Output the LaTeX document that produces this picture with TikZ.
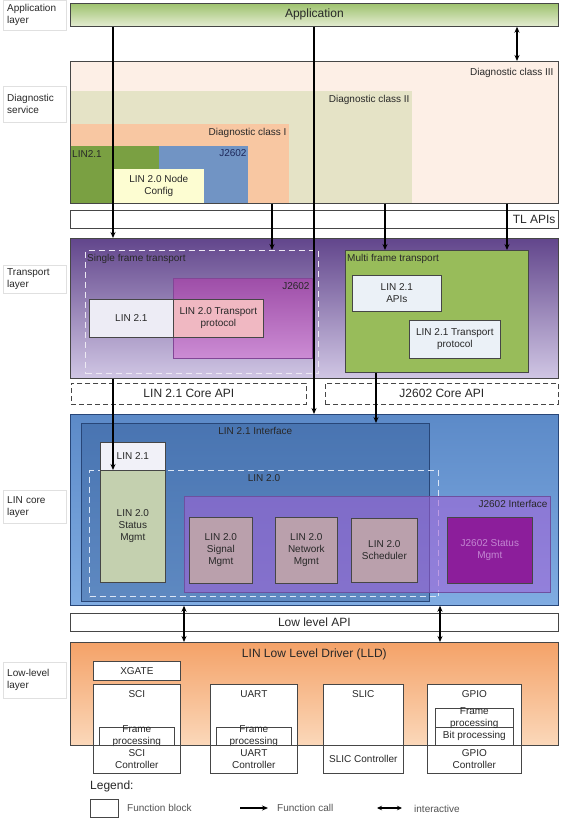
\documentclass[tikz,border=0pt]{standalone}
\usepackage{fontspec}
\setmainfont{Liberation Sans}
\usetikzlibrary{arrows.meta, positioning, calc}
\definecolor{cText}{RGB}{40,40,40}
\definecolor{cEdge}{RGB}{70,70,70}
\definecolor{cAppTop}{RGB}{158,194,110}
\definecolor{cAppBot}{RGB}{228,236,210}
\definecolor{cDiagIII}{RGB}{253,239,230}
\definecolor{cDiagII}{RGB}{229,227,198}
\definecolor{cDiagI}{RGB}{248,199,162}
\definecolor{cLinGreen}{RGB}{122,160,66}
\definecolor{cJBlue}{RGB}{113,148,196}
\definecolor{cJNavy}{RGB}{30,40,90}
\definecolor{cNodeCfg}{RGB}{253,253,210}
\definecolor{cTransTop}{RGB}{98,70,140}
\definecolor{cTransBot}{RGB}{208,198,228}
\definecolor{cSftEdge}{RGB}{236,232,242}
\definecolor{cJMagTop}{RGB}{158,78,168}
\definecolor{cJMagBot}{RGB}{204,140,212}
\definecolor{cJMagEdge}{RGB}{130,70,150}
\definecolor{cLinWhite}{RGB}{237,236,245}
\definecolor{cTpPink}{RGB}{240,184,194}
\definecolor{cMultiGreen}{RGB}{152,188,90}
\definecolor{cApiFill}{RGB}{235,241,247}
\definecolor{cCoreTop}{RGB}{92,138,200}
\definecolor{cCoreBot}{RGB}{128,172,226}
\definecolor{cIfBlue}{RGB}{35,75,135}
\definecolor{cIfEdge}{RGB}{40,70,120}
\definecolor{cLinDash}{RGB}{220,230,245}
\definecolor{cIfPurple}{RGB}{165,95,215}
\definecolor{cIfPEdge}{RGB}{110,80,160}
\definecolor{cLin21c}{RGB}{241,241,248}
\definecolor{cStatus}{RGB}{196,208,175}
\definecolor{cMgmt}{RGB}{186,160,172}
\definecolor{cJStatus}{RGB}{140,30,155}
\definecolor{cJStatusTxt}{RGB}{195,135,210}
\definecolor{cLldTop}{RGB}{244,162,104}
\definecolor{cLldBot}{RGB}{251,216,186}
\tikzset{
  blk/.style={rectangle, draw=cEdge, line width=0.7pt, anchor=north west,
              inner sep=0pt, align=center, text=cText, font=\normalsize},
  bigbar/.style={blk, fill=white, font=\large},
  dashbar/.style={bigbar, dashed, dash pattern=on 5pt off 3pt},
  tagtxt/.style={font=\normalsize, text=cText, inner sep=0pt, text opacity=1},
  tagNE/.style={label={[tagtxt, anchor=base east, xshift=-3pt, yshift=-11pt]north east:#1}},
  tagNW/.style={label={[tagtxt, anchor=base west, xshift=2pt, yshift=-11pt]north west:#1}},
  tagN/.style={label={[tagtxt, anchor=base, yshift=-11pt]north:#1}},
  blktitle/.style={label={[tagtxt, anchor=base, yshift=-13.6pt]north:#1}},
  layerlbl/.style={rectangle, draw=black!12, anchor=west, align=left, inner xsep=4pt,
                   font=\normalsize, text=cText, text width=55pt},
  fcall/.style={-{Stealth[length=6pt, width=5pt]}, line width=1.3pt},
  inter/.style={{Stealth[length=6pt, width=5pt]}-{Stealth[length=6pt, width=5pt]}, line width=1.3pt},
}
\begin{document}
\begin{tikzpicture}[x=1pt, y=-1pt]
\useasboundingbox (0,0) rectangle (562,822);
\fill[white] (0,0) rectangle (562,822);

%% ============================================================
%%  LAYER NAMES (left column)
%% ============================================================
\node[layerlbl, minimum height=30pt] (lApp)   at (3,15)  {Application\\layer};
\node[layerlbl, minimum height=36pt] (lDiag)  at (3,104) {Diagnostic\\service};
\node[layerlbl, minimum height=28pt] (lTrans) at (3,279) {Transport\\layer};
\node[layerlbl, minimum height=33pt] (lCore)  at (3,507) {LIN core\\layer};
\node[layerlbl, minimum height=36pt] (lLow)   at (3,680) {Low-level\\layer};

%% ============================================================
%%  APPLICATION + DIAGNOSTIC SERVICE
%% ============================================================
\node[blk, minimum width=488pt, minimum height=23pt, font=\large,
      top color=cAppTop, bottom color=cAppBot] (app) at (70,3) {Application};

\node[blk, fill=cDiagIII, minimum width=488pt, minimum height=142pt,
      label={[tagtxt, anchor=base east, xshift=-5pt, yshift=-14pt]north east:Diagnostic class III}]
  (diag3) at (70,61) {};
\node[blk, draw=none, fill=cDiagII, minimum width=342pt, minimum height=112pt,
      tagNE=Diagnostic class II] (diag2) at (70,91) {};
\node[blk, draw=none, fill=cDiagI, minimum width=219pt, minimum height=79pt,
      tagNE=Diagnostic class I] (diag1) at (70,124) {};
\node[blk, draw=none, fill=cLinGreen, minimum width=89pt, minimum height=57pt,
      tagNW=LIN2.1] (lin21d) at (70,146) {};
\node[blk, draw=none, fill=cJBlue, minimum width=89pt, minimum height=57pt,
      label={[tagtxt, text=cJNavy, anchor=base east, xshift=-2pt, yshift=-10pt]north east:J2602}]
  (j2602d) at (159,146) {};
\node[blk, draw=none, fill=cNodeCfg, minimum width=91pt, minimum height=34pt]
  (nodecfg) at (113,169) {LIN 2.0 Node\\Config};
\draw[cEdge, line width=0.7pt] (diag3.north west) rectangle (diag3.south east);

\node[bigbar, minimum width=488pt, minimum height=18pt,
      label={[tagtxt, font=\large, anchor=east, xshift=-3pt]east:TL APIs}] (tlapi) at (70,210) {};

%% ============================================================
%%  TRANSPORT LAYER
%% ============================================================
\node[blk, minimum width=488pt, minimum height=140pt,
      top color=cTransTop, bottom color=cTransBot] (trans) at (70,238) {};
\node[blk, draw=cSftEdge, dashed, dash pattern=on 6pt off 4pt, line width=1pt,
      minimum width=233pt, minimum height=123pt, tagNW=Single frame transport] (sft) at (85,250) {};
\node[blk, draw=cJMagEdge, top color=cJMagTop, bottom color=cJMagBot,
      minimum width=139pt, minimum height=80pt, tagNE=J2602] (j2602t) at (173,278) {};
\node[blk, fill=cLinWhite, minimum width=84pt, minimum height=38pt] (lin21t) at (89,299) {LIN 2.1};
\node[blk, fill=cTpPink, minimum width=90pt, minimum height=38pt]
  (tp20) at (173,299) {LIN 2.0 Transport\\protocol};

\node[blk, fill=cMultiGreen, minimum width=183pt, minimum height=122pt,
      tagNW=Multi frame transport] (mft) at (345,250) {};
\node[blk, fill=cApiFill, minimum width=89pt, minimum height=36pt] (api21) at (352,275) {LIN 2.1\\APIs};
\node[blk, fill=cApiFill, minimum width=91pt, minimum height=38pt]
  (tp21) at (409,320) {LIN 2.1 Transport\\protocol};

\node[dashbar, minimum width=235pt, minimum height=21pt] (capi21) at (71,383) {LIN 2.1 Core API};
\node[dashbar, minimum width=233pt, minimum height=21pt] (capij) at (325,383) {J2602 Core API};

%% ============================================================
%%  LIN CORE LAYER
%% ============================================================
\node[blk, draw=cIfEdge, minimum width=488pt, minimum height=191pt,
      top color=cCoreTop, bottom color=cCoreBot] (core) at (70,414) {};
\node[blk, draw=cIfEdge, fill=cIfBlue, fill opacity=0.35, text opacity=1,
      minimum width=348pt, minimum height=178pt, tagN=LIN 2.1 Interface] (if21) at (81,423) {};
\node[blk, draw=cLinDash, dashed, dash pattern=on 6pt off 4pt, line width=1pt,
      minimum width=349pt, minimum height=126pt, tagN=LIN 2.0] (lin20) at (89,470) {};
\node[blk, draw=cIfPEdge, fill=cIfPurple, fill opacity=0.55, text opacity=1,
      minimum width=366pt, minimum height=96pt, tagNE=J2602 Interface] (ifj) at (184,496) {};

\node[blk, fill=cLin21c, minimum width=65pt, minimum height=28pt] (lin21c) at (100,442) {LIN 2.1};
\node[blk, fill=cStatus, minimum width=65pt, minimum height=112pt]
  (status) at (100,470) {LIN 2.0\\Status\\Mgmt};
\node[blk, fill=cMgmt, minimum width=63pt, minimum height=66pt] (signal)  at (189,517) {LIN 2.0\\Signal\\Mgmt};
\node[blk, fill=cMgmt, minimum width=62pt, minimum height=66pt] (network) at (275,517) {LIN 2.0\\Network\\Mgmt};
\node[blk, fill=cMgmt, minimum width=66pt, minimum height=64pt] (sched)   at (351,518) {LIN 2.0\\Scheduler};
\node[blk, fill=cJStatus, text=cJStatusTxt, minimum width=85pt, minimum height=66pt]
  (jstatus) at (447,517) {J2602 Status\\Mgmt};

%% ============================================================
%%  LOW-LEVEL LAYER
%% ============================================================
\node[bigbar, minimum width=488pt, minimum height=18pt] (lowapi) at (70,613) {Low level API};

\node[blk, minimum width=488pt, minimum height=103pt, top color=cLldTop, bottom color=cLldBot,
      label={[tagtxt, font=\large, anchor=base, yshift=-15.5pt]north:LIN Low Level Driver (LLD)}]
  (lld) at (70,642) {};

\node[blk, fill=white, minimum width=87pt, minimum height=19pt] (xgate) at (93,661) {XGATE};
\node[blk, fill=white, minimum width=87pt, minimum height=89pt, blktitle=SCI]  (sci)  at (93,684) {};
\node[blk, fill=white, minimum width=87pt, minimum height=89pt, blktitle=UART] (uart) at (210,684) {};
\node[blk, fill=white, minimum width=80pt, minimum height=89pt, blktitle=SLIC] (slic) at (323,684) {};
\node[blk, fill=white, minimum width=94pt, minimum height=89pt, blktitle=GPIO] (gpio) at (427,684) {};

\node[blk, fill=white, minimum width=75pt, minimum height=18pt] (scifp)  at (99,727)  {};
\node[blk, fill=white, minimum width=75pt, minimum height=18pt] (uartfp) at (216,727) {};
\node[blk, fill=white, minimum width=78pt, minimum height=19pt] (gpiofp) at (435,708) {};
\node[blk, fill=white, minimum width=78pt, minimum height=18pt] (gpiobp) at (435,727) {Bit processing};
\node[tagtxt, align=center] (scifpt)  at (scifp.center)  {Frame\\processing};
\node[tagtxt, align=center] (uartfpt) at (uartfp.center) {Frame\\processing};
\node[tagtxt, align=center] (gpiofpt) at (gpiofp.center) {Frame\\processing};
\draw[cEdge, line width=0.7pt] (lld.south west) -- (lld.south east);

\node[tagtxt, align=center] (scictl)  at ($(sci.south)+(0,-14.5)$)  {SCI\\Controller};
\node[tagtxt, align=center] (uartctl) at ($(uart.south)+(0,-14.5)$) {UART\\Controller};
\node[tagtxt, align=center] (slicctl) at ($(slic.south)+(0,-15)$)   {SLIC Controller};
\node[tagtxt, align=center] (gpioctl) at ($(gpio.south)+(0,-14.5)$) {GPIO\\Controller};

%% ============================================================
%%  CALLS BETWEEN LAYERS
%% ============================================================
\coordinate (xA) at (113,0);
\coordinate (xB) at (314,0);
\coordinate (xC) at (272,0);
\coordinate (xD) at (385,0);
\coordinate (xE) at (507,0);
\coordinate (xF) at (517,0);
\coordinate (xG) at (376,0);
\coordinate (xH) at (184,0);
\coordinate (xI) at (440,0);

\draw[fcall] (xA |- app.south) -- (xA |- trans.north);
\draw[fcall] (xB |- app.south) -- (xB |- core.north);
\draw[inter] (xF |- app.south) -- (xF |- diag3.north);
\draw[fcall] (xC |- diag3.south) -- (xC |- sft.north);
\draw[fcall] (xD |- diag3.south) -- (xD |- mft.north);
\draw[fcall] (xE |- diag3.south) -- (xE |- mft.north);
\draw[fcall] (xA |- trans.south) -- (xA |- status.north);
\draw[fcall] (xG |- mft.south) -- (xG |- if21.north);
\draw[inter] (xH |- core.south) -- (xH |- lld.north);
\draw[inter] (xI |- core.south) -- (xI |- lld.north);

%% ============================================================
%%  LEGEND
%% ============================================================
\node[tagtxt, font=\large, anchor=west] (legend) at (90,786) {Legend:};
\node[blk, fill=white, minimum width=28pt, minimum height=18pt] (legblk) at (90,799) {};
\node[tagtxt, text=cText!80, anchor=west] (legblktxt) at (127,808) {Function block};
\coordinate (legA1) at (240,808);
\coordinate (legA2) at (268,808);
\draw[fcall] (legA1) -- (legA2);
\node[tagtxt, text=cText!80, anchor=west] (legcall) at (277,808) {Function call};
\coordinate (legB1) at (377,808);
\coordinate (legB2) at (402,808);
\draw[{Stealth[length=5pt, width=4.5pt]}-{Stealth[length=5pt, width=4.5pt]}, line width=1.1pt]
  (legB1) -- (legB2);
\node[tagtxt, text=cText!80, anchor=west] (leginter) at (414,809) {interactive};

\end{tikzpicture}
\end{document}
